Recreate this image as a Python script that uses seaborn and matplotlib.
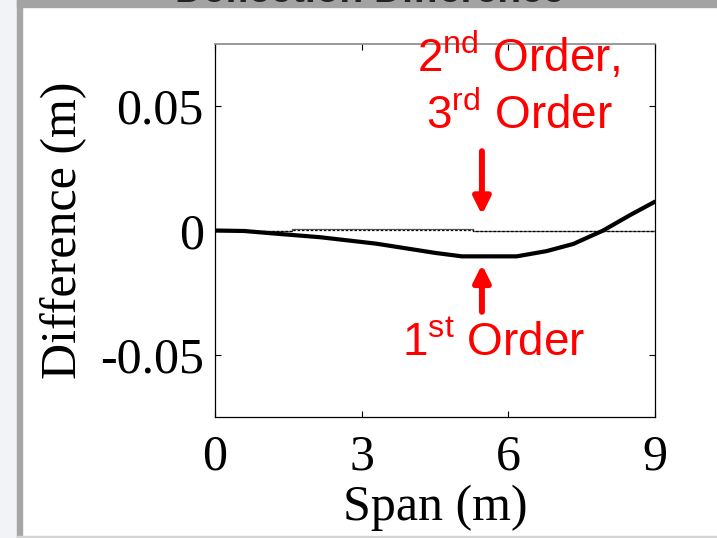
import matplotlib
matplotlib.use("Agg")
import matplotlib.pyplot as plt
import seaborn as sns
import pandas as pd
from matplotlib.patches import Rectangle

# ---- data ----
span_1st = [0, 0.6, 1.2, 2.15, 3.3, 4.5, 5.05, 6.17, 6.78, 7.33, 7.94, 8.49, 9.0]
diff_1st = [0, -0.0002, -0.0012, -0.0027, -0.0053, -0.0090, -0.0104, -0.0104,
            -0.0083, -0.0054, 0.0, 0.0062, 0.0116]

span_2nd = [0, 1.57, 1.57, 5.28, 5.28, 9.0]
diff_2nd = [0, 0, 0.0006, 0.0006, 0, 0]

span_3rd = [0, 1.57, 1.57, 5.28, 5.28, 6.36, 6.36, 7.2, 7.2, 9.0]
diff_3rd = [0, 0, 0.0002, 0.0002, 0, 0, -0.0003, -0.0003, 0, 0]

x_ticks = [0, 3, 6, 9]
y_ticks = [-0.05, 0, 0.05]
y_tick_labels = ["-0.05", "0", "0.05"]

df1 = pd.DataFrame({"Span": span_1st, "Diff": diff_1st})
df2 = pd.DataFrame({"Span": span_2nd, "Diff": diff_2nd})
df3 = pd.DataFrame({"Span": span_3rd, "Diff": diff_3rd})

sns.set_style("ticks")
plt.rcParams["font.family"] = ["Liberation Serif", "DejaVu Serif"]
plt.rcParams["text.color"] = "black"
plt.rcParams["axes.labelcolor"] = "black"
plt.rcParams["xtick.color"] = "black"
plt.rcParams["ytick.color"] = "black"
plt.rcParams["mathtext.fontset"] = "custom"
plt.rcParams["mathtext.rm"] = "Liberation Sans"
plt.rcParams["mathtext.it"] = "Liberation Sans"

W, H = 717, 538
fig = plt.figure(figsize=(W / 100, H / 100), dpi=100)
fig.patch.set_facecolor("white")

# slide frame decorations
fig.add_artist(Rectangle((0, 0), 17 / W, 1, transform=fig.transFigure,
                         color="#f2f3f6", zorder=0))
fig.add_artist(Rectangle((17 / W, 0), 5 / W, 1, transform=fig.transFigure,
                         color="#a6a6a6", zorder=1))
fig.add_artist(Rectangle((17 / W, 1 - 7 / H), 1, 7 / H, transform=fig.transFigure,
                         color="#a3a3a3", zorder=1))
fig.add_artist(Rectangle((17 / W, 0), 1, 2 / H, transform=fig.transFigure,
                         color="#d4d4d4", zorder=1))
fig.text(370 / W, 1 - 2 / H, "Deflection Difference", ha="center", va="baseline",
         fontsize=28, fontweight="bold", family=["Liberation Sans"], color="#222222",
         zorder=3)

ax = fig.add_axes([215 / W, 1 - 417 / H, 440 / W, 373 / H])

sns.lineplot(data=df2, x="Span", y="Diff", ax=ax, color="#555555", lw=0.9,
             sort=False, estimator=None)
sns.lineplot(data=df3, x="Span", y="Diff", ax=ax, color="black", lw=0.9,
             linestyle=(0, (2, 1.5)), sort=False, estimator=None)
sns.lineplot(data=df1, x="Span", y="Diff", ax=ax, color="black", lw=3.0,
             sort=False, estimator=None)

ax.set_xlim(0, 9)
ax.set_ylim(-0.075, 0.075)
ax.set_xticks(x_ticks)
ax.set_xticklabels([str(t) for t in x_ticks])
ax.set_yticks(y_ticks)
ax.set_yticklabels(y_tick_labels)
ax.tick_params(direction="in", length=4, width=0.8, top=True, right=True,
               labelsize=36, color="black")
ax.tick_params(axis="x", pad=12)
ax.tick_params(axis="y", pad=8)
ax.set_xlabel("Span (m)", fontsize=36, labelpad=3)
ax.set_ylabel("Difference (m)", fontsize=36, labelpad=9)
for s in ["left", "bottom", "right"]:
    ax.spines[s].set_color("black")
    ax.spines[s].set_linewidth(0.9)
ax.spines["top"].set_color("#888888")
ax.spines["top"].set_linewidth(1.2)

red = "#ff0000"
arrow_style = "-|>,head_length=0.5,head_width=0.25"
ax.text(6.22, 0.0585, "2$^{\\mathrm{nd}}$ Order,\n3$^{\\mathrm{rd}}$ Order", ha="center",
        va="center", color=red, fontsize=33, family=["Liberation Sans"],
        linespacing=1.32, clip_on=False)
ax.annotate("", xy=(5.46, 0.0063), xytext=(5.46, 0.0319),
            arrowprops=dict(arrowstyle=arrow_style, mutation_scale=20,
                            color=red, lw=4.3, shrinkA=0, shrinkB=0))
ax.annotate("", xy=(5.46, -0.0137), xytext=(5.46, -0.0327),
            arrowprops=dict(arrowstyle=arrow_style, mutation_scale=20,
                            color=red, lw=4.3, shrinkA=0, shrinkB=0))
ax.text(5.7, -0.0455, "1$^{\\mathrm{st}}$ Order", ha="center", va="center",
        color=red, fontsize=33, family=["Liberation Sans"])

fig.savefig("out.png", dpi=100)
